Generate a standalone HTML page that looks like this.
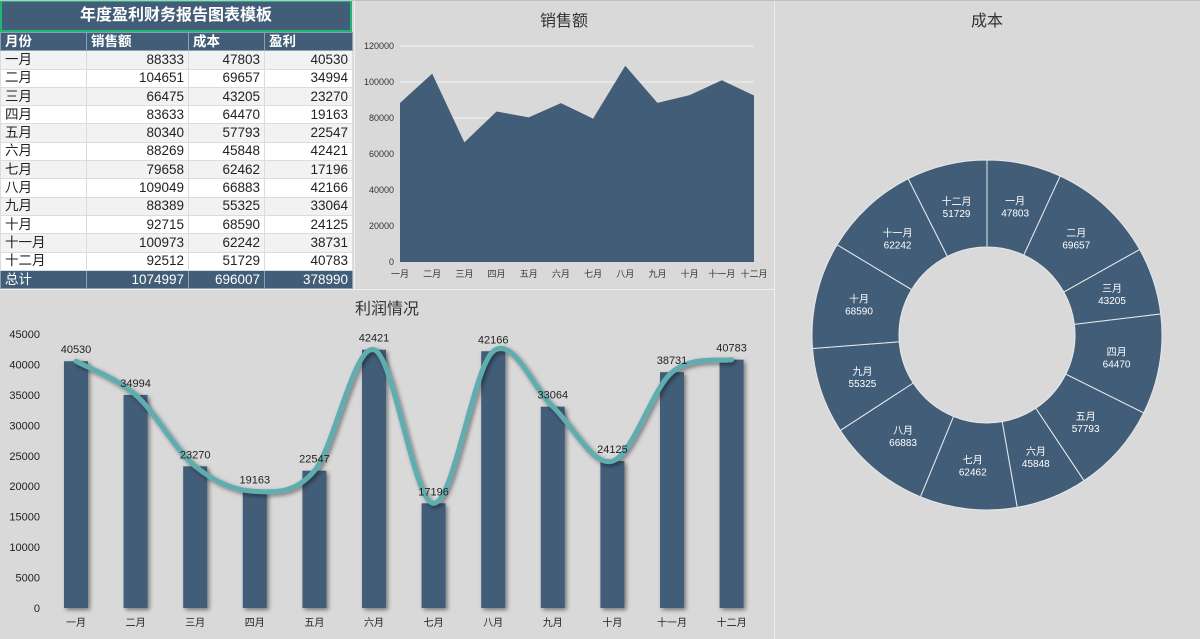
<!DOCTYPE html>
<html><head><meta charset="utf-8"><style>
body{margin:0;width:1200px;height:639px;background:#d9d9d9;font-family:"Liberation Sans","Noto Sans CJK SC",sans-serif;overflow:hidden;position:relative}
table{position:absolute;left:0;top:0;border-collapse:collapse;font-size:13.5px;color:#222;table-layout:fixed}
td{padding:0 4px;height:18.3px;border:1px solid #dcdcdc;box-sizing:border-box;line-height:16px;overflow:hidden;white-space:nowrap}
td.n{text-align:right}
.hd td{background:#425d78;color:#fff;font-weight:bold;border-color:#8da0b3}
.tot td{background:#425d78;color:#fff;border-color:#8da0b3}
svg{position:absolute;left:0;top:0}
</style></head><body>
<div style="position:absolute;left:0;top:0;width:352px;height:32px;box-sizing:border-box;border:2px solid #22b573;background:#425d78;color:#fff;font-weight:bold;font-size:16px;text-align:center;line-height:28px">年度盈利财务报告图表模板</div>
<table style="top:32px;width:352px">
<colgroup><col style="width:86px"><col style="width:102px"><col style="width:76px"><col style="width:88px"></colgroup>
<tbody id="tb"></tbody></table>
<svg id="s" width="1200" height="639">
<defs><filter id="sh" x="-50%" y="-10%" width="200%" height="130%"><feDropShadow dx="2" dy="2" stdDeviation="2" flood-color="#000" flood-opacity="0.45"/></filter></defs>
<line x1="354.5" y1="0" x2="354.5" y2="289" stroke="#eee"/>
<line x1="774.5" y1="0" x2="774.5" y2="639" stroke="#eee"/>
<line x1="0" y1="289.5" x2="774" y2="289.5" stroke="#eee"/>
<line x1="0" y1="0.5" x2="1200" y2="0.5" stroke="#b7c3d1"/>
<text x="564" y="26" font-size="16" text-anchor="middle" fill="#333">销售额</text>
<text x="387" y="314" font-size="16" text-anchor="middle" fill="#333">利润情况</text>
<text x="987" y="26" font-size="16" text-anchor="middle" fill="#333">成本</text>
<g id="area"></g><g id="bars"></g><g id="donut"></g>
</svg>
<script>
const months=["一月","二月","三月","四月","五月","六月","七月","八月","九月","十月","十一月","十二月"];
const sales=[88333,104651,66475,83633,80340,88269,79658,109049,88389,92715,100973,92512];
const cost=[47803,69657,43205,64470,57793,45848,62462,66883,55325,68590,62242,51729];
const profit=[40530,34994,23270,19163,22547,42421,17196,42166,33064,24125,38731,40783];
const salesTicks=[0,20000,40000,60000,80000,100000,120000];
const profitTicks=[0,5000,10000,15000,20000,25000,30000,35000,40000,45000];
const NS="http://www.w3.org/2000/svg";
function mk(p,t,a,txt){const e=document.createElementNS(NS,t);for(const k in a)e.setAttribute(k,a[k]);if(txt!==undefined)e.textContent=txt;p.appendChild(e);return e;}
const tb=document.getElementById('tb');
function row(cells,cls,name){const tr=document.createElement('tr');if(cls)tr.className=cls;


cells.forEach((c,i)=>{const td=document.createElement('td');td.textContent=c;if(i>0&&cls!=='hd')td.className='n';tr.appendChild(td);});tb.appendChild(tr);
if(!cls){tr.style.background=(tb.children.length%2===0)?'#f2f2f2':'#fff';}}
row(["月份","销售额","成本","盈利"],'hd','table-header');
months.forEach((m,i)=>row([m,sales[i],cost[i],profit[i]],'','table-row'));
const sum=a=>a.reduce((x,y)=>x+y,0);
row(["总计",sum(sales),sum(cost),sum(profit)],'tot','table-total');
const A=document.getElementById('area');
const ax=i=>400+i*(354/11), ay=v=>262-v/120000*216;
salesTicks.forEach(t=>{if(t>0){const l=mk(A,'line',{x1:400,x2:754,y1:ay(t),y2:ay(t),stroke:'#f2f2f2','stroke-width':1});

}
const tx=mk(A,'text',{x:394,y:ay(t)+3,'font-size':9,'text-anchor':'end',fill:'#333'},t);

});
let d='M'+ax(0)+','+ay(0);sales.forEach((v,i)=>d+='L'+ax(i)+','+ay(v));d+='L'+ax(11)+','+ay(0)+'Z';
const ar=mk(A,'path',{d:d,fill:'#425d78'});


months.forEach((m,i)=>{const t=mk(A,'text',{x:ax(i),y:277,'font-size':9,'text-anchor':'middle',fill:'#333'},m);

});
const B=document.getElementById('bars');
const bx=i=>76+i*59.6, by=v=>608-v/45000*274;
profitTicks.forEach(t=>{const tx=mk(B,'text',{x:40,y:by(t)+4,'font-size':11,'text-anchor':'end',fill:'#222'},t);

});
profit.forEach((v,i)=>{const r=mk(B,'rect',{x:bx(i)-12,y:by(v),width:24,height:608-by(v),fill:'#425d78',filter:'url(#sh)'});


const m=mk(B,'text',{x:bx(i),y:626,'font-size':10,'text-anchor':'middle',fill:'#222'},months[i]);

});
const P=profit.map((v,i)=>[bx(i),by(v)]);
let c='M'+P[0];for(let i=0;i<P.length-1;i++){const p0=P[Math.max(i-1,0)],p1=P[i],p2=P[i+1],p3=P[Math.min(i+2,P.length-1)];
c+='C'+(p1[0]+(p2[0]-p0[0])/6)+','+(p1[1]+(p2[1]-p0[1])/6)+' '+(p2[0]-(p3[0]-p1[0])/6)+','+(p2[1]-(p3[1]-p1[1])/6)+' '+p2[0]+','+p2[1];}
const cv=mk(B,'path',{d:c,fill:'none',stroke:'#5fadaf','stroke-width':5,'stroke-linecap':'round',filter:'url(#sh)'});


profit.forEach((v,i)=>{const l=mk(B,'text',{x:bx(i),y:by(v)-8,'font-size':11,'text-anchor':'middle',fill:'#222'},v);

});
const D=document.getElementById('donut');
const cx=987,cy=335,R=175,r0=88,tot=sum(cost);let a0=-Math.PI/2;
const pt=(a,rr)=>[cx+rr*Math.cos(a),cy+rr*Math.sin(a)];
cost.forEach((v,i)=>{const a1=a0+v/tot*2*Math.PI,lg=(a1-a0)>Math.PI?1:0;
const p1=pt(a0,R),p2=pt(a1,R),p3=pt(a1,r0),p4=pt(a0,r0);
const s=mk(D,'path',{d:`M${p1}A${R},${R} 0 ${lg} 1 ${p2}L${p3}A${r0},${r0} 0 ${lg} 0 ${p4}Z`,fill:'#425d78',stroke:'#e8e8e8','stroke-width':1});


const am=(a0+a1)/2,lp=pt(am,(R+r0)/2);
const t1=mk(D,'text',{x:lp[0],y:lp[1]-2,'font-size':10,'text-anchor':'middle',fill:'#fff'},months[i]);


const t2=mk(D,'text',{x:lp[0],y:lp[1]+10,'font-size':10,'text-anchor':'middle',fill:'#fff'},v);


a0=a1;});
</script>
</body></html>
